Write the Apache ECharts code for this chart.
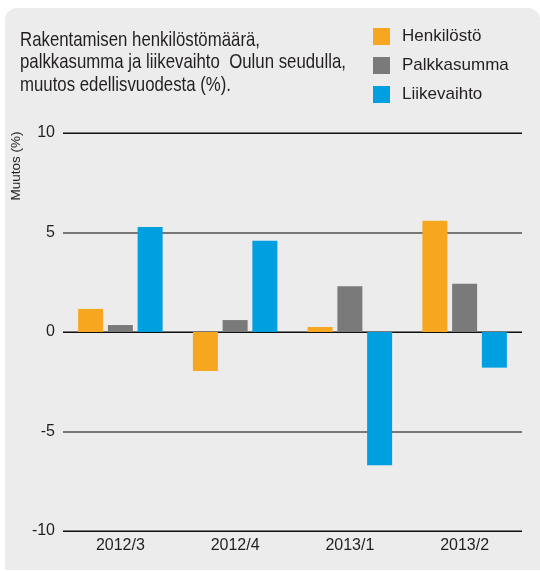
<!DOCTYPE html>
<html><head><meta charset="utf-8">
<script src="https://cdn.jsdelivr.net/npm/echarts@6/dist/echarts.min.js"></script>
<style>html,body{margin:0;padding:0;background:#fff}#c{width:540px;height:571px}</style>
</head><body><div id="c"></div>
<script>
const categories = ['2012/3', '2012/4', '2013/1', '2013/2'];
const henkilosto = [1.16, -1.96, 0.25, 5.59];
const palkkasumma = [0.35, 0.6, 2.3, 2.42];
const liikevaihto = [5.28, 4.58, -6.7, -1.79];
const seriesNames = ['Henkilöstö', 'Palkkasumma', 'Liikevaihto'];
const colors = ['#f7a620', '#7a7a7a', '#009fe0'];
const titleLines = ['Rakentamisen henkilöstömäärä,', 'palkkasumma ja liikevaihto  Oulun seudulla,', 'muutos edellisvuodesta (%).'];
const yAxisName = 'Muutos (%)';

const FONT = '"Liberation Sans", Arial, sans-serif';
const TXT = '#231f20';
const chart = echarts.init(document.getElementById('c'), null, {renderer: 'canvas'});
const mk = (name, data, i) => ({
  name, type: 'bar', data, barWidth: 25, barGap: '19%',
  itemStyle: {color: colors[i]}, z: 3
});
const titleGraphics = titleLines.map((t, i) => ({
  type: 'text', x: 20, y: 40 + i * 22.5, scaleX: 0.8, scaleY: 1,
  style: {text: t, font: '21px ' + FONT, fill: TXT, verticalAlign: 'middle', align: 'left'}
}));
chart.setOption({
  animation: false,
  backgroundColor: '#ffffff',
  color: colors,
  textStyle: {fontFamily: FONT},
  graphic: [
    {type: 'rect', z: -10, shape: {x: 5, y: 8, width: 535, height: 562, r: [12, 12, 0, 0]}, style: {fill: '#ececec'}},
    ...titleGraphics,
    {type: 'text', x: 16, y: 166, rotation: Math.PI / 2,
     style: {text: yAxisName, font: '13.5px ' + FONT, fill: TXT, align: 'center', verticalAlign: 'middle'}}
  ],
  legend: {
    orient: 'vertical', left: 373, top: 28, itemWidth: 17, itemHeight: 17, itemGap: 12,
    icon: 'rect', data: seriesNames, padding: 0,
    textStyle: {fontSize: 17, color: TXT, fontFamily: FONT, padding: [0, 0, 0, 7]}
  },
  grid: {left: 63, right: 18, top: 133, bottom: 40, containLabel: false},
  xAxis: {
    type: 'category', data: categories,
    axisLine: {show: false}, axisTick: {show: false},
    axisLabel: {fontSize: 16, color: TXT, margin: 7, fontFamily: FONT},
    splitLine: {show: false}
  },
  yAxis: [
    {
      type: 'value', min: -10, max: 10, interval: 5,
      axisLine: {show: false}, axisTick: {show: false},
      axisLabel: {fontSize: 16, color: TXT, margin: 8, fontFamily: FONT},
      splitLine: {show: true, lineStyle: {color: '#777', width: 2}}
    },
    {
      type: 'value', min: -10, max: 10, interval: 10, position: 'left',
      axisLine: {show: false}, axisTick: {show: false}, axisLabel: {show: false},
      splitLine: {show: true, lineStyle: {color: '#111', width: 1.2}}
    }
  ],
  series: [mk(seriesNames[0], henkilosto, 0), mk(seriesNames[1], palkkasumma, 1), mk(seriesNames[2], liikevaihto, 2)]
});
</script></body></html>
